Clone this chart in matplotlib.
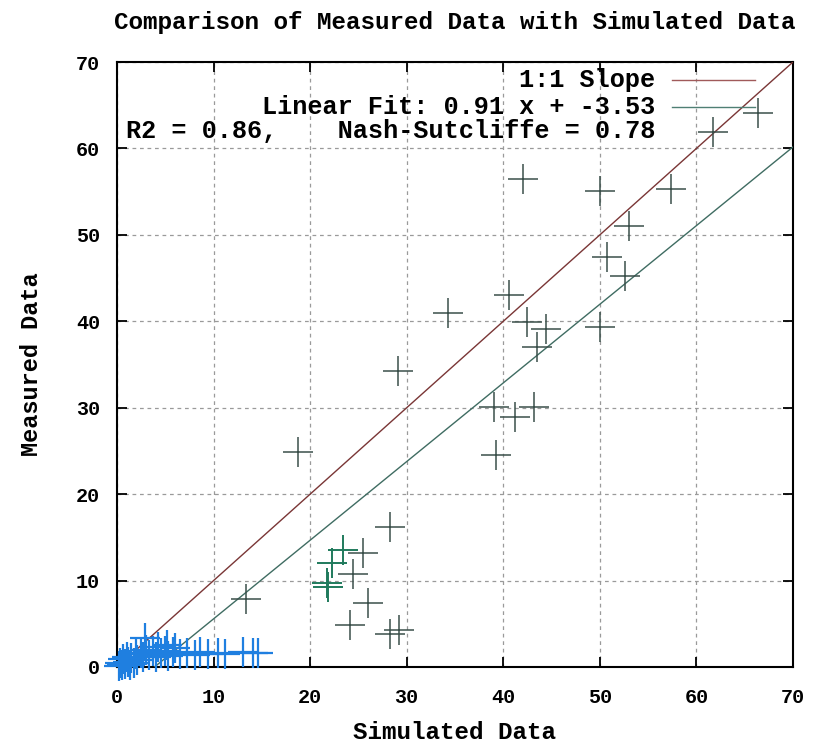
import matplotlib
matplotlib.use("Agg")
import matplotlib.pyplot as plt
import numpy as np

# ---------------- data ----------------
title = "Comparison of Measured Data with Simulated Data"
xlabel = "Simulated Data"
ylabel = "Measured Data"
ticks = [0, 10, 20, 30, 40, 50, 60, 70]

# upper scatter (dark slate crosses)
sim_upper = [18.7, 29.1, 34.3, 42.0, 50.0, 57.4, 53.0, 50.7, 52.6, 40.6, 42.5,
             44.4, 43.5, 50.0, 39.0, 41.2, 43.2, 39.2, 66.4, 61.7, 28.3,
             25.5, 24.4, 26.0, 24.1, 28.3, 29.2, 13.4]
meas_upper = [24.9, 34.3, 41.0, 56.5, 55.1, 55.3, 51.0, 47.4, 45.2, 43.0, 39.9,
              39.1, 37.0, 39.3, 30.1, 28.9, 30.1, 24.5, 64.1, 61.9, 16.2,
              13.2, 10.8, 7.4, 4.9, 3.8, 4.3, 7.9]

# mid cluster (green crosses)
sim_mid = [21.7, 21.9, 22.3, 23.4]
meas_mid = [9.7, 9.3, 12.0, 13.5]

# low cluster (blue crosses)
sim_low = [0.2, 0.3, 0.5, 0.6, 0.8, 1.0, 1.1, 1.3, 1.5, 1.8, 2.0, 2.1, 2.5, 2.7,
           2.9, 3.0, 3.3, 3.7, 4.0, 4.2, 4.6, 5.0, 5.2, 5.3, 5.8, 6.0, 6.5, 7.2,
           8.1, 8.6, 9.4, 10.5, 11.2, 13.0, 14.1, 14.6]
meas_low = [0.1, 0.5, 0.2, 0.9, 0.3, 1.2, 0.6, 0.2, 1.0, 0.5, 1.5, 0.8, 1.6, 1.2,
            3.3, 2.0, 1.4, 1.8, 1.2, 2.3, 1.6, 1.9, 2.5, 1.3, 1.7, 2.2, 1.5, 1.6,
            1.4, 1.7, 1.5, 1.6, 1.5, 1.7, 1.6, 1.6]

fit_slope = 0.91
fit_intercept = -3.53
r2 = 0.86
nse = 0.78

# ---------------- plot ----------------
mono = "Liberation Mono"
fig = plt.figure(figsize=(8.2, 7.44), dpi=100)
ax = fig.add_axes([117/820, 1-667/744, 676/820, 605/744])

ax.set_xlim(0, 70)
ax.set_ylim(0, 70)
ax.set_xticks(ticks)
ax.set_yticks(ticks)
ax.grid(True, color="#9a9a9a", linestyle=(0, (3, 3)), linewidth=0.9)
ax.set_axisbelow(True)

xs = np.array([0, 70])
ax.plot(xs, xs, color="#7a3636", linewidth=1.0, zorder=3)
ax.plot(xs, fit_slope * xs + fit_intercept, color="#3f6c62", linewidth=1.0, zorder=3)

ms = 22
ax.plot(sim_upper, meas_upper, linestyle="none", marker="+", markersize=ms,
        markeredgewidth=1.1, color="#3a4f4a", zorder=4, clip_on=False)
ax.plot(sim_mid, meas_mid, linestyle="none", marker="+", markersize=ms,
        markeredgewidth=1.4, color="#1f7a5c", zorder=4, clip_on=False)
ax.plot(sim_low, meas_low, linestyle="none", marker="+", markersize=ms,
        markeredgewidth=1.6, color="#1f7fe0", zorder=4, clip_on=False)

for s in ax.spines.values():
    s.set_linewidth(1.5)
    s.set_color("black")
ax.tick_params(direction="in", length=7, width=1.3, top=True, right=True,
               labelsize=14.5)
ax.tick_params(axis="x", pad=15)
ax.tick_params(axis="y", pad=12)
for lab in ax.get_xticklabels() + ax.get_yticklabels():
    lab.set_fontfamily(mono)
    lab.set_fontweight("bold")

ax.set_title(title, fontfamily=mono, fontsize=17.5, fontweight="bold", pad=24)
ax.set_xlabel(xlabel, fontfamily=mono, fontsize=17.5, fontweight="bold", labelpad=10)
ax.set_ylabel(ylabel, fontfamily=mono, fontsize=17, fontweight="bold", labelpad=24)

# key (gnuplot-style: right aligned text, sample on right)
tx = 0.796
kfs = 18.2
ax.text(tx, 0.970, "1:1 Slope", transform=ax.transAxes, ha="right", va="center",
        fontfamily=mono, fontsize=kfs, fontweight="bold", zorder=5)
ax.plot([0.821, 0.944], [0.970, 0.970], transform=ax.transAxes,
        color="#a05a5a", linewidth=1.0, zorder=5)
ax.text(tx, 0.926, f"Linear Fit: {fit_slope:.2f} x + {fit_intercept:.2f}",
        transform=ax.transAxes, ha="right", va="center",
        fontfamily=mono, fontsize=kfs, fontweight="bold", zorder=5)
ax.plot([0.821, 0.944], [0.926, 0.926], transform=ax.transAxes,
        color="#4f7f74", linewidth=1.0, zorder=5)
ax.text(tx, 0.886, f"R2 = {r2:.2f},    Nash-Sutcliffe = {nse:.2f}",
        transform=ax.transAxes, ha="right", va="center",
        fontfamily=mono, fontsize=kfs, fontweight="bold", zorder=5)

fig.savefig("out.png", dpi=100, facecolor="white")
